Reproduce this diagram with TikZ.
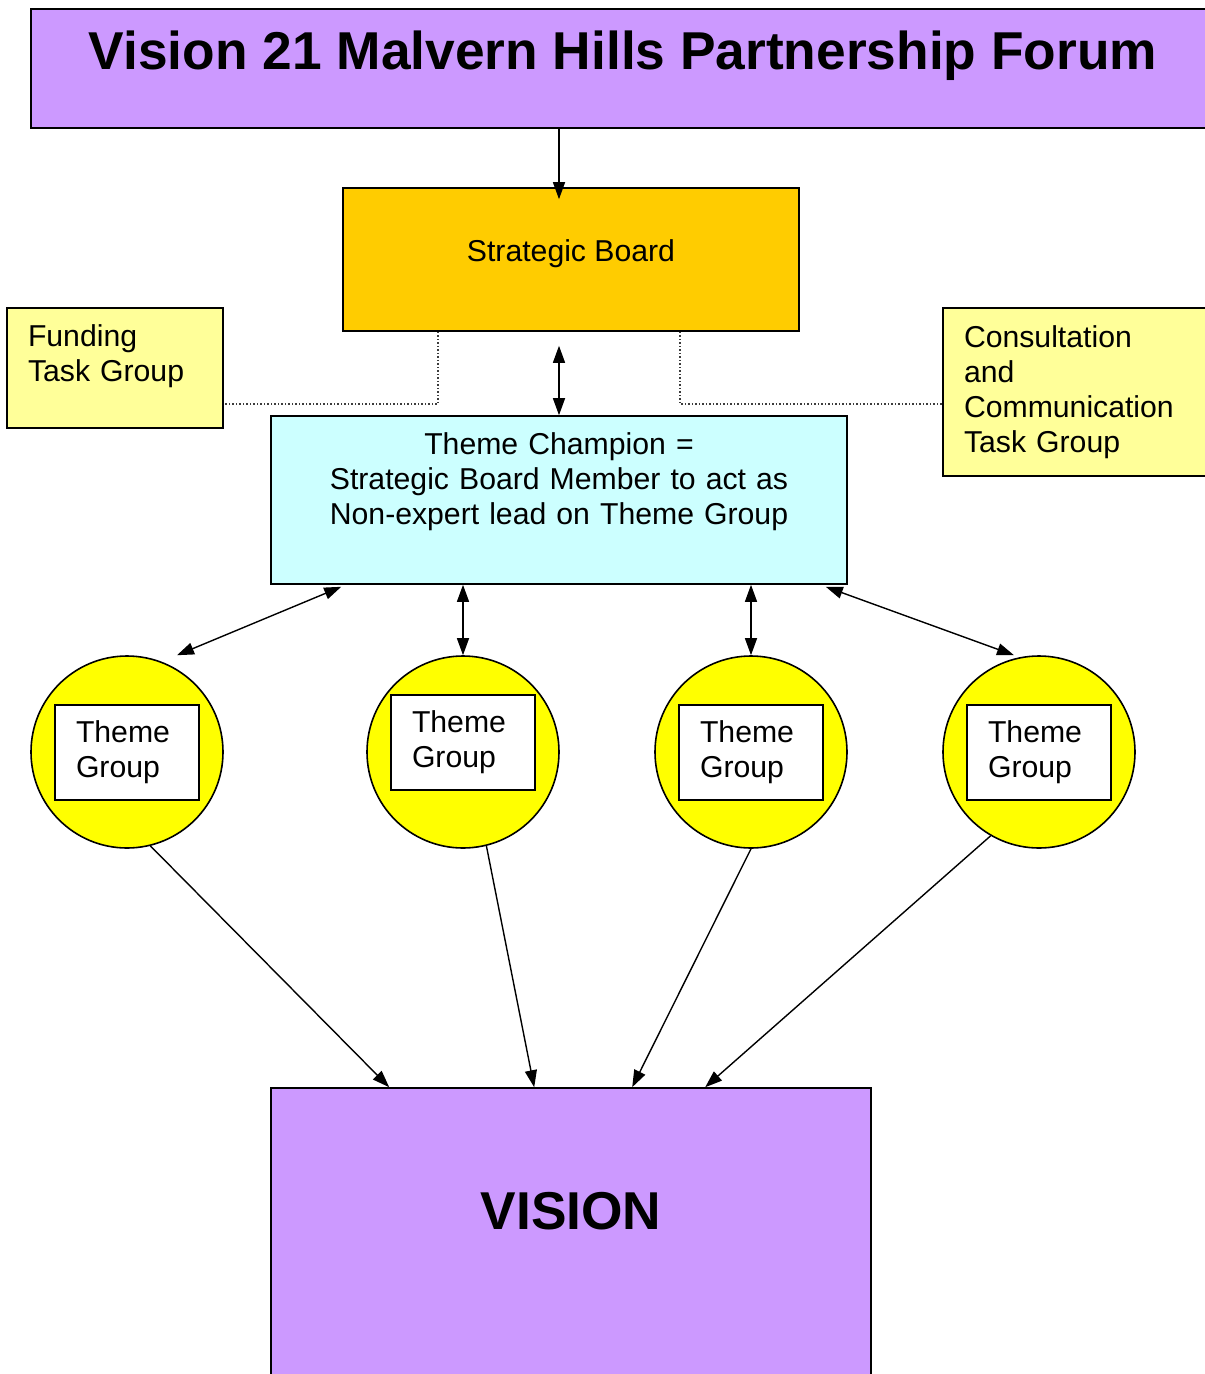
\documentclass[tikz,border=0pt]{standalone}
\usepackage{fontspec}
\setmainfont{Liberation Sans}
\usepackage{tikz}
\usetikzlibrary{arrows.meta, positioning, calc}
\definecolor{mylilac}{RGB}{204,153,255}
\definecolor{myamber}{RGB}{255,204,0}
\definecolor{mypale}{RGB}{255,255,153}
\definecolor{mycyan}{RGB}{204,255,255}
\definecolor{myyellow}{RGB}{255,255,0}
\definecolor{mydots}{RGB}{60,60,60}
\newcommand{\bodysize}{\fontsize{30.2}{35}\selectfont}
\newcommand{\headsize}{\fontsize{53.3}{60}\selectfont\bfseries}
\tikzset{
  headbox/.style={rectangle, draw=black, fill=mylilac, line width=1.6pt,
    font=\headsize, inner sep=0pt},
  boardbox/.style={rectangle, draw=black, fill=myamber, line width=1.6pt,
    font=\bodysize, inner sep=0pt},
  taskbox/.style={rectangle, draw=black, fill=mypale, line width=1.6pt,
    font=\bodysize, align=left, inner xsep=21pt, inner ysep=0pt},
  champbox/.style={rectangle, draw=black, fill=mycyan, line width=1.6pt,
    font=\bodysize, align=center, inner sep=0pt},
  themecircle/.style={circle, draw=black, fill=myyellow, line width=1.6pt,
    minimum size=192pt, inner sep=0pt},
  themebox/.style={rectangle, draw=black, fill=white, line width=1.6pt,
    font=\bodysize, align=left, text width=102pt, inner xsep=21pt,
    inner ysep=0pt, minimum height=95pt},
  arrow/.style={-{Triangle[length=17pt, width=12pt]}, line width=1.4pt},
  dblarrow/.style={{Triangle[length=17pt, width=12pt]}-{Triangle[length=17pt, width=12pt]},
    line width=1.4pt},
  dotline/.style={dotted, line width=1.5pt, color=mydots}
}

\begin{document}
\begin{tikzpicture}[x=1pt, y=-1pt]
  \useasboundingbox (0,0) rectangle (1205,1374);
  \clip (0,0) rectangle (1205,1374);

  \node[headbox, minimum width=1184pt, minimum height=119pt, text depth=37pt] (forum) at (623,68.5)
    {Vision 21 Malvern Hills Partnership Forum};
  \node[boardbox, minimum width=456pt, minimum height=143pt, text depth=17pt] (board) at (571,259.5)
    {Strategic Board};
  \node[taskbox, text width=174pt, minimum height=120pt, text depth=64pt] (funding) at (115,368)
    {Funding\\Task Group};
  \node[taskbox, text width=230pt, minimum height=168pt] (consult) at (1079,392)
    {Consultation\\and\\Communication\\Task Group};
  \node[champbox, text width=576pt, minimum height=168pt, text depth=112pt] (champ) at (559,500)
    {Theme Champion =\\Strategic Board Member to act as\\Non-expert lead on Theme Group};

  % theme groups
  \node[themecircle] (tg1) at (127,752) {};
  \node[themecircle] (tg2) at (463,752) {};
  \node[themecircle] (tg3) at (751,752) {};
  \node[themecircle] (tg4) at (1039,752) {};
  \node[themebox] (tgbox1) at (127,752.5) {Theme\\Group};
  \node[themebox] (tgbox2) at (463,742.5) {Theme\\Group};
  \node[themebox] (tgbox3) at (751,752.5) {Theme\\Group};
  \node[themebox] (tgbox4) at (1039,752.5) {Theme\\Group};

  \node[headbox, minimum width=600pt, minimum height=312pt, text depth=67pt] (vision) at (571,1244)
    {VISION};

  % connectors
  \draw[arrow] (forum.south -| champ.north) -- ($(board.north -| champ.north)+(0,12)$);
  \draw[dblarrow] ($(board.south -| champ.north)+(0,14)$) -- (champ.north);
  \draw[dotline] ($(board.south west)+(96,0)$) |- ($(funding.south east)+(0,-25)$);
  \draw[dotline] ($(board.south east)+(-120,0)$) |- ($(consult.south west)+(0,-73)$);

  \draw[dblarrow] ($(champ.south west)+(71,2)$) -- ($(tg1.north)+(50,0)$);
  \draw[dblarrow] (champ.south -| tg2.north) -- (tg2.north);
  \draw[dblarrow] (champ.south -| tg3.north) -- (tg3.north);
  \draw[dblarrow] ($(champ.south east)+(-22,2)$) -- ($(tg4.north)+(-25,0)$);

  \draw[arrow] (tg1.-76) -- ($(vision.north west)+(119,0)$);
  \draw[arrow] (tg2.-76) -- ($(vision.north west)+(264,0)$);
  \draw[arrow] (tg3.south) -- ($(vision.north west)+(362,0)$);
  \draw[arrow] (tg4.-120) -- ($(vision.north west)+(435,0)$);
\end{tikzpicture}
\end{document}
